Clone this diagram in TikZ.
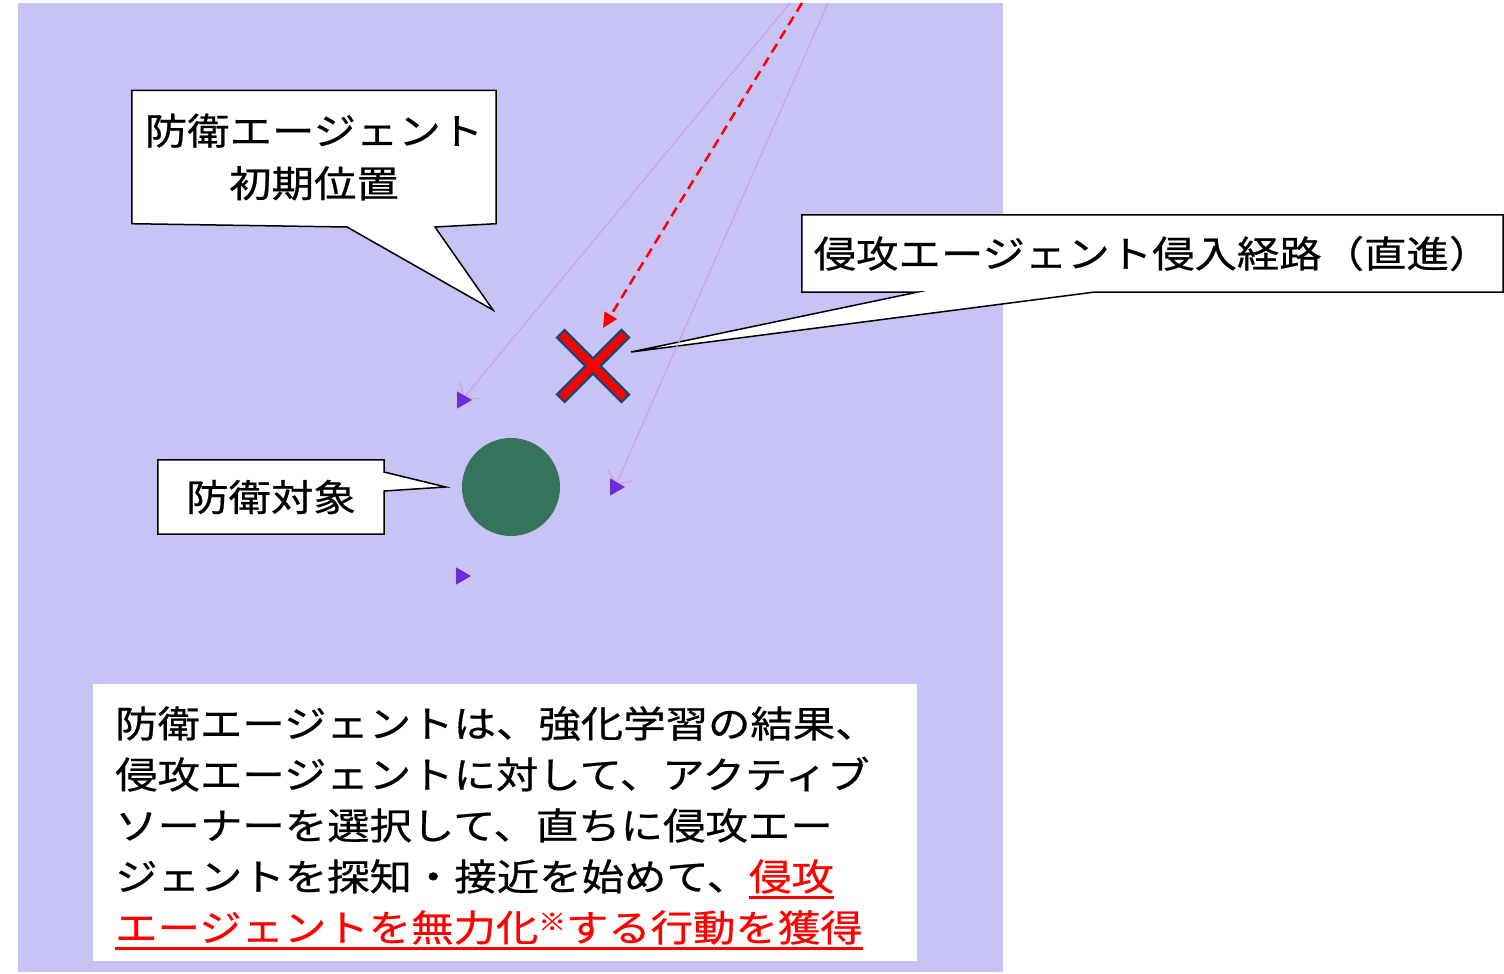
\documentclass[tikz,border=0pt]{standalone}
\usepackage{fontspec}
\newfontfamily\jp[FakeStretch=1.146,FakeBold=0.6]{Noto Sans CJK JP}
\usetikzlibrary{arrows.meta,shapes.geometric}
\definecolor{lav}{RGB}{199,196,245}
\definecolor{trajc}{RGB}{204,164,222}
\definecolor{agentc}{RGB}{108,44,214}
\definecolor{targetc}{RGB}{53,115,92}
\definecolor{xout}{RGB}{24,72,112}
\pgfdeclarelayer{back}
\pgfdeclarelayer{shapes}
\pgfsetlayers{back,shapes,main}
\newcommand\redul[1]{\setbox0=\hbox{#1}\rlap{\rule[-8.5pt]{\wd0}{2.5pt}}\box0}
\newcommand\komesign{{\fontsize{24}{24}\selectfont\raisebox{11pt}{※}}}
\begin{document}
\begin{tikzpicture}[x=1pt,y=-1pt,
  calloutbox/.style={inner sep=0pt, align=center, font=\jp\fontsize{37}{52.5}\selectfont},
  calloutline/.style={fill=white, draw=black, line width=1.5pt, line join=miter},
  agent/.style={isosceles triangle, isosceles triangle apex angle=60, fill=agentc, inner sep=0pt, minimum size=15pt},
  traj/.style={trajc, line width=1.4pt, -{Straight Barb[length=10pt,width=27pt]}},
  attack/.style={red, line width=2.5pt, dash pattern=on 10pt off 6pt, -{Triangle[length=15pt,width=14pt]}}
]
\useasboundingbox (0,0) rectangle (1504,974);
\begin{pgfonlayer}{back}
  \fill[lav] (18,3) rectangle (1003,972);
\end{pgfonlayer}

% callout boxes (text)
\node[calloutbox, minimum width=364pt, minimum height=133pt] (c1) at (314,157) {防衛エージェント\\初期位置};
\node[calloutbox, minimum width=701pt, minimum height=77pt] (c2) at (1152.5,253.5) {侵攻エージェント侵入経路（直進）};
\node[calloutbox, minimum width=226pt, minimum height=74pt] (c3) at (271,497) {防衛対象};

% scene elements
\node[circle, fill=targetc, minimum size=98pt, inner sep=0pt] (target) at (511,487) {};
\coordinate (xm) at (593,366);
\coordinate (s1) at (790,3);
\coordinate (s2) at (828,3);
\coordinate (s0) at (802,3);
\coordinate (hit) at (603,328);

% callout outlines with tails
\begin{pgfonlayer}{shapes}
  \path[calloutline] (c1.south west) -- (c1.north west) -- (c1.north east) -- (c1.south east)
     -- (435,227) -- (493,310) -- (347,227) -- cycle;
  \path[calloutline] (c2.south west) -- (c2.north west) -- (c2.north east) -- (c2.south east)
     -- (1095,292) -- (631,352) -- (918,292) -- cycle;
  \path[calloutline] (c3.south west) -- (c3.north west) -- (c3.north east)
     -- (384,472) -- ([xshift=-16pt]target.west) -- (384,491) -- (c3.south east) -- cycle;
  \fill[white] (93,684) rectangle (917,961);
\end{pgfonlayer}

% agents and trajectories
\coordinate (p1) at (462,400);
\coordinate (p2) at (615,487);
\draw[traj, shorten >=2pt] (s1) -- (p1);
\draw[traj, shorten >=2pt] (s2) -- (p2);
\node[agent] (a1) at (p1) {};
\node[agent] (a2) at (p2) {};
\node[agent] (a3) at (461,576) {};

% intrusion arrow
\draw[attack] (s0) -- (hit);

% X mark
\draw[xout, line width=13pt] ([shift={(-33,-33)}]xm) -- ([shift={(33,33)}]xm);
\draw[xout, line width=13pt] ([shift={(-33,33)}]xm) -- ([shift={(33,-33)}]xm);
\draw[red, line width=8pt, shorten <=2.2pt, shorten >=2.2pt] ([shift={(-33,-33)}]xm) -- ([shift={(33,33)}]xm);
\draw[red, line width=8pt, shorten <=2.2pt, shorten >=2.2pt] ([shift={(-33,33)}]xm) -- ([shift={(33,-33)}]xm);

% description
\node[anchor=north west, inner sep=0pt, align=left, font=\jp\fontsize{37}{51}\selectfont] (desc) at (115,706)
{防衛エージェントは、強化学習の結果、\\
侵攻エージェントに対して、アクティブ\\
ソーナーを選択して、直ちに侵攻エー\\
ジェントを探知・接近を始めて、\textcolor{red}{\redul{侵攻}}\\
\textcolor{red}{\redul{エージェントを無力化\komesign する行動を獲得}}};
\end{tikzpicture}
\end{document}
